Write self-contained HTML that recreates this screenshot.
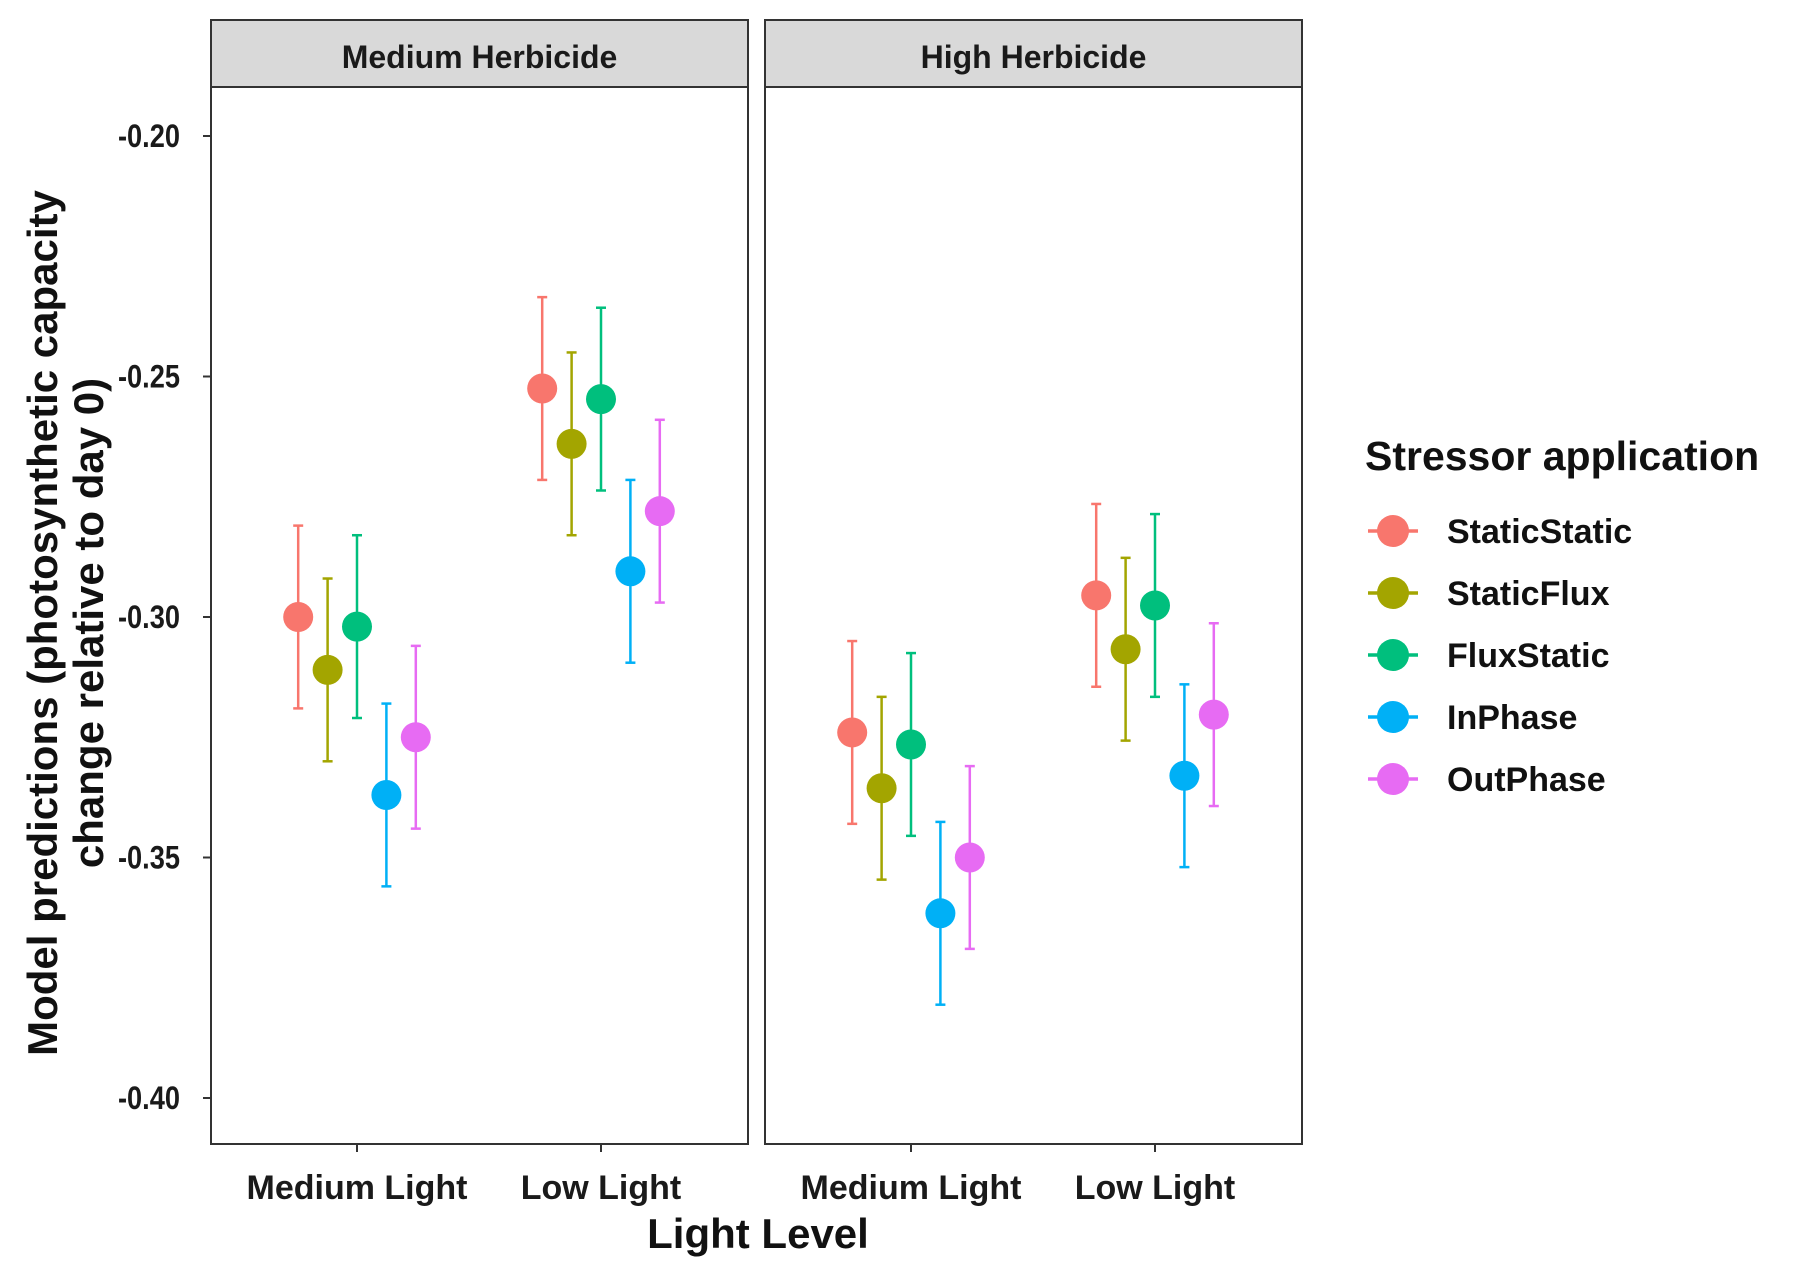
<!DOCTYPE html>
<html><head><meta charset="utf-8"><style>
html,body{margin:0;padding:0;background:#fff;}
svg{display:block;}
text{font-family:"Liberation Sans",sans-serif;font-weight:bold;}
</style></head><body>
<svg id="chart" width="1800" height="1271" viewBox="0 0 1800 1271" xmlns="http://www.w3.org/2000/svg">
<g id="panels"></g>
<g id="marks"></g>
<g id="legend"></g>
<text transform="translate(57,623) rotate(-90)" text-anchor="middle" font-size="42" fill="#111">Model predictions (photosynthetic capacity</text>
<text transform="translate(103,623) rotate(-90)" text-anchor="middle" font-size="42" fill="#111">change relative to day 0)</text>
<text x="758" y="1248" text-anchor="middle" font-size="42" fill="#111">Light Level</text>
</svg>
<script>
const facets = ["Medium Herbicide", "High Herbicide"];
const categories = ["Medium Light", "Low Light"];
const series = ["StaticStatic", "StaticFlux", "FluxStatic", "InPhase", "OutPhase"];
const colors = ["#F8766D", "#A3A500", "#00BF7D", "#00B0F6", "#E76BF3"];
const yTicks = [-0.20, -0.25, -0.30, -0.35, -0.40];
const yTickLabels = ["-0.20", "-0.25", "-0.30", "-0.35", "-0.40"];
const medHerbMedLight = [-0.300, -0.311, -0.302, -0.337, -0.325];
const medHerbLowLight = [-0.2525, -0.264, -0.2547, -0.2905, -0.278];
const highHerbMedLight = [-0.324, -0.3356, -0.3265, -0.3616, -0.350];
const highHerbLowLight = [-0.2955, -0.3067, -0.2976, -0.333, -0.3203];
const errHalf = [0.019, 0.019, 0.019, 0.019, 0.019];
const values = [[medHerbMedLight, medHerbLowLight], [highHerbMedLight, highHerbLowLight]];

const NS = "http://www.w3.org/2000/svg";
const panelX = [211, 765], panelW = 537, stripTop = 20, stripBot = 87, panelBot = 1144;
function yScale(v){ return 136 + (-0.20 - v) / 0.05 * 240.5; }
function xScale(f, c, s){ const base = panelX[f] + 146 + c * 244; return base + (s - 2) * 29.4; }
function el(tag, attrs, parent){ const e = document.createElementNS(NS, tag); for (const k in attrs) e.setAttribute(k, attrs[k]); parent.appendChild(e); return e; }

const panels = document.getElementById('panels');
facets.forEach((f, fi) => {
  const x0 = panelX[fi];
  const strip = el('rect', {x:x0, y:stripTop, width:panelW, height:stripBot-stripTop, fill:'#d9d9d9', stroke:'#333', 'stroke-width':2}, panels);
  
  
  const st = el('text', {x:x0+panelW/2, y:68, 'text-anchor':'middle', 'font-size':32, fill:'#1a1a1a'}, panels);
  st.textContent = f;
  
  
  const pr = el('rect', {x:x0, y:stripBot, width:panelW, height:panelBot-stripBot, fill:'#fff', stroke:'#333', 'stroke-width':2}, panels);
  
  
  categories.forEach((c, ci) => {
    const cx = xScale(fi, ci, 2);
    const tk = el('line', {x1:cx, x2:cx, y1:panelBot, y2:panelBot+8, stroke:'#333', 'stroke-width':2}, panels);
    
    
    const tl = el('text', {x:cx, y:1199, 'text-anchor':'middle', 'font-size':34, fill:'#1a1a1a'}, panels);
    tl.textContent = c;
    
    
  });
});
yTicks.forEach((t, i) => {
  const y = yScale(t);
  const tk = el('line', {x1:203, x2:211, y1:y, y2:y, stroke:'#333', 'stroke-width':2}, panels);
  
  
  const tl = el('text', {x:180, y:y+11, 'text-anchor':'end', 'font-size':32, fill:'#1a1a1a', 'textLength':62, 'lengthAdjust':'spacingAndGlyphs'}, panels);
  tl.textContent = yTickLabels[i];
  
  
});

const marks = document.getElementById('marks');
values.forEach((fv, fi) => fv.forEach((cv, ci) => cv.forEach((v, si) => {
  const x = xScale(fi, ci, si), col = colors[si];
  const yt = yScale(v + errHalf[si]), yb = yScale(v - errHalf[si]);
  const g = el('g', {}, marks);
  
  
  el('line', {x1:x, x2:x, y1:yt, y2:yb, stroke:col, 'stroke-width':2.5}, g);
  el('line', {x1:x-5, x2:x+5, y1:yt, y2:yt, stroke:col, 'stroke-width':2.5}, g);
  el('line', {x1:x-5, x2:x+5, y1:yb, y2:yb, stroke:col, 'stroke-width':2.5}, g);
  el('circle', {cx:x, cy:yScale(v), r:15, fill:col}, g);
})));

const legend = document.getElementById('legend');
const lt = el('text', {x:1365, y:470, 'font-size':41, fill:'#111'}, legend);
lt.textContent = 'Stressor application';


series.forEach((s, i) => {
  const y = 531 + i * 62;
  const g = el('g', {}, legend);
  
  
  el('line', {x1:1368, x2:1418, y1:y, y2:y, stroke:colors[i], 'stroke-width':3.5}, g);
  el('circle', {cx:1393, cy:y, r:16, fill:colors[i]}, g);
  const t = el('text', {x:1447, y:y+12, 'font-size':34, fill:'#111'}, g);
  t.textContent = s;
});
</script>
</body></html>
